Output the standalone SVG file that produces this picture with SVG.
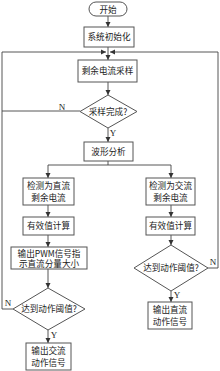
<svg xmlns="http://www.w3.org/2000/svg" width="220" height="371" viewBox="0 0 220 371">
<style>
.b{fill:#fff;stroke:#555;stroke-width:1}
.l{fill:none;stroke:#444;stroke-width:0.9}
text{font-family:"Noto Sans CJK SC","Liberation Serif",serif;font-size:8.6px;fill:#222;text-anchor:middle}
.lb{font-family:"Liberation Serif",serif;font-size:9px}
</style>
<defs>
<marker id="a" markerWidth="6" markerHeight="6" refX="5" refY="3" orient="auto" markerUnits="userSpaceOnUse">
<path d="M0,0.5 L5,3 L0,5.5 Z" fill="#333"/>
</marker>
</defs>
<g id="connectors">
<line class="l" x1="108" y1="16" x2="108" y2="27" marker-end="url(#a)"/>
<line class="l" x1="108" y1="47" x2="108" y2="60" marker-end="url(#a)"/>
<polyline class="l" points="13,309 2,309 2,52 106,52" marker-end="url(#a)"/>
<polyline class="l" points="208,268 218,268 218,52 110,52" marker-end="url(#a)"/>
<line class="l" x1="108" y1="82" x2="108" y2="95" marker-end="url(#a)"/>
<line class="l" x1="80" y1="111" x2="2" y2="111"/>
<line class="l" x1="108" y1="128" x2="108" y2="142" marker-end="url(#a)"/>
<polyline class="l" points="108,161 108,165 48,165 48,178" marker-end="url(#a)"/>
<polyline class="l" points="108,165 171,165 171,178" marker-end="url(#a)"/>
<line class="l" x1="48" y1="205" x2="48" y2="217" marker-end="url(#a)"/>
<line class="l" x1="48" y1="235" x2="48" y2="247" marker-end="url(#a)"/>
<line class="l" x1="48" y1="269" x2="48" y2="288" marker-end="url(#a)"/>
<line class="l" x1="48" y1="330" x2="48" y2="343" marker-end="url(#a)"/>
<line class="l" x1="171" y1="205" x2="171" y2="217" marker-end="url(#a)"/>
<line class="l" x1="171" y1="235" x2="171" y2="245" marker-end="url(#a)"/>
<line class="l" x1="171" y1="291" x2="171" y2="302" marker-end="url(#a)"/>
<text class="lb" x="62" y="110">N</text>
<text class="lb" x="113" y="136">Y</text>
<text class="lb" x="8" y="306">N</text>
<text class="lb" x="54" y="338">Y</text>
<text class="lb" x="213" y="265">N</text>
<text class="lb" x="177" y="298">Y</text>
</g>
<g id="start"><rect class="b" x="89" y="2" width="38" height="14" rx="7"/><text x="108" y="12.5">开始</text></g>
<g id="init"><rect class="b" x="84" y="27" width="50" height="20"/><text x="109" y="40">系统初始化</text></g>
<g id="sample"><rect class="b" x="78" y="60" width="59" height="22"/><text x="107.5" y="74">剩余电流采样</text></g>
<g id="done"><polygon class="b" points="108,95 137,111.5 108,128 80,111.5"/><text x="108" y="114.5">采样完成?</text></g>
<g id="wave"><rect class="b" x="84" y="142" width="49" height="19"/><text x="108.5" y="155">波形分析</text></g>
<g id="dc-detect"><rect class="b" x="23" y="178" width="51" height="27"/><text x="48.5" y="189">检测为直流</text><text x="48.5" y="201">剩余电流</text></g>
<g id="dc-rms"><rect class="b" x="23" y="217" width="51" height="18"/><text x="48.5" y="229">有效值计算</text></g>
<g id="pwm"><rect class="b" x="11" y="247" width="76" height="22"/><text x="49" y="256.5">输出PWM信号指</text><text x="49" y="267">示直流分量大小</text></g>
<g id="dc-th"><polygon class="b" points="48,288 85,309 48,330 13,309"/><text x="49" y="312">达到动作阈值?</text></g>
<g id="ac-out"><rect class="b" x="26" y="343" width="45" height="27"/><text x="48.5" y="354">输出交流</text><text x="48.5" y="366">动作信号</text></g>
<g id="ac-detect"><rect class="b" x="146" y="178" width="49" height="27"/><text x="170.5" y="189">检测为交流</text><text x="170.5" y="201">剩余电流</text></g>
<g id="ac-rms"><rect class="b" x="146" y="217" width="49" height="18"/><text x="170.5" y="229">有效值计算</text></g>
<g id="ac-th"><polygon class="b" points="171,245 208,268 171,291 134,268"/><text x="171" y="271">达到动作阈值?</text></g>
<g id="dc-out"><rect class="b" x="148" y="302" width="44" height="27"/><text x="170" y="313">输出直流</text><text x="170" y="325">动作信号</text></g>
</svg>
